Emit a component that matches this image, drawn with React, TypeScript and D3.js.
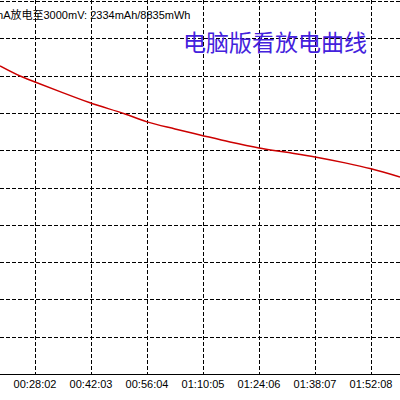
import React from "react";
import * as d3 from "d3";

// elapsed time (s) and voltage (V)
const timesSec = [1156, 1457, 1682, 2057, 2508, 3034, 3364, 3785, 4160, 4610, 5046, 5436, 5887, 6338, 6728, 7163];
const voltages = [3.826, 3.799, 3.783, 3.757, 3.727, 3.697, 3.676, 3.657, 3.641, 3.622, 3.606, 3.595, 3.582, 3.566, 3.55, 3.528];

const tickSec = [1682, 2523, 3364, 4205, 5046, 5887, 6728];
const tickLabels = ["00:28:02", "00:42:03", "00:56:04", "01:10:05", "01:24:06", "01:38:07", "01:52:08"];
const yGrid = [3.1, 3.2, 3.3, 3.4, 3.5, 3.6, 3.7, 3.8, 3.9, 4.0];

const headerText = "mA放电至3000mV: 2334mAh/8835mWh";
const titleText = "电脑版看放电曲线";

const W = 400;
const H = 400;

export default function App() {
  const x = d3.scaleLinear().domain([1156, 7163]).range([0, 400]);
  const y = d3.scaleLinear().domain([3.0, 4.0]).range([374, 1]);
  const data = timesSec.map((t, i) => [t, voltages[i]] as [number, number]);
  const line = d3
    .line<[number, number]>()
    .x((d) => x(d[0]))
    .y((d) => y(d[1]))
    .curve(d3.curveMonotoneX);

  return (
    <svg
      width={W}
      height={H}
      style={{ position: "fixed", left: 0, top: 0, background: "#fff", display: "block" }}
    >
      <rect x={0} y={0} width={W} height={H} fill="#fff" />
      {yGrid.map((v, i) => (
        <line
          key={"h" + i}
          x1={0}
          x2={W}
          y1={Math.round(y(v)) + 0.5}
          y2={Math.round(y(v)) + 0.5}
          stroke="#000"
          strokeWidth={1}
          strokeDasharray="4,2"
        />
      ))}
      {tickSec.map((t, i) => (
        <line
          key={"v" + i}
          x1={Math.round(x(t)) + 0.5}
          x2={Math.round(x(t)) + 0.5}
          y1={0}
          y2={374}
          stroke="#000"
          strokeWidth={1}
          strokeDasharray="4,2"
        />
      ))}
      <line x1={0} x2={W} y1={374.5} y2={374.5} stroke="#000" strokeWidth={1} />
      {tickSec.map((t, i) => (
        <text
          key={"t" + i}
          x={x(t)}
          y={388}
          textAnchor="middle"
          fontFamily="Liberation Sans, Arial, sans-serif"
          fontSize={11}
          fill="#000"
        >
          {tickLabels[i]}
        </text>
      ))}
      <path d={line(data) || ""} fill="none" stroke="#cc0000" strokeWidth={1.5} />
      <text
        x={-6}
        y={19}
        fontFamily="Liberation Sans, 'Noto Sans CJK SC', sans-serif"
        fontSize={11}
        fill="#000"
      >
        {headerText}
      </text>
      <text
        x={183}
        y={41}
        dominantBaseline="central"
        fontFamily="'Noto Sans CJK SC', sans-serif"
        fontSize={23}
        fill="#4422dd"
      >
        {titleText}
      </text>
    </svg>
  );
}
